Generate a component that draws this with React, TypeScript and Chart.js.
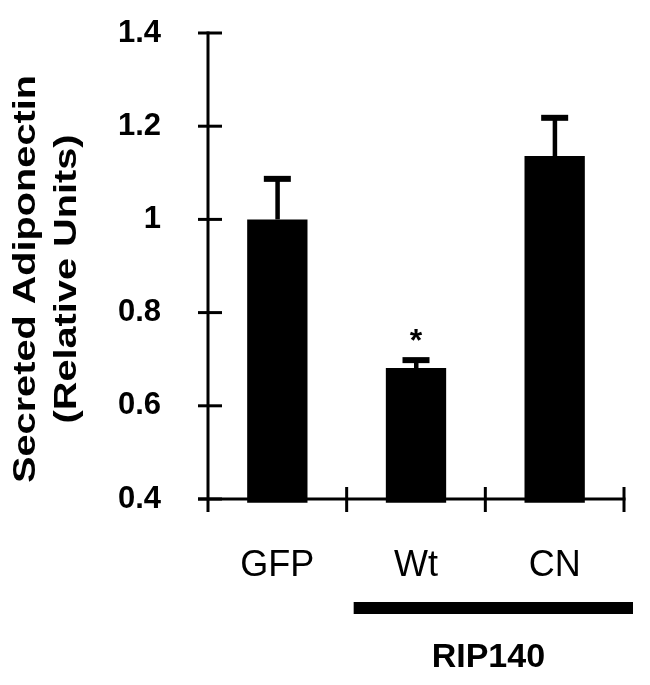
import React, { useEffect, useRef } from 'react';
import { Chart, registerables } from 'chart.js';

Chart.register(...registerables);

const categories = ['GFP', 'Wt', 'CN'];
const means = [1.0, 0.681, 1.136];
const errors = [0.087, 0.017, 0.082];
const significance = ['', '*', ''];
const yTitleLines = ['Secreted Adiponectin', '(Relative Units)'];
const groupLabel = 'RIP140';
const groupRange = [1, 2];
const yMin = 0.4;
const yMax = 1.4;
const yStep = 0.2;

const FONT = "'Liberation Sans', Arial, sans-serif";

const customPlugin = {
  id: 'customDecor',
  beforeDatasetsDraw(chart: any) {
    const { ctx, chartArea, scales } = chart;
    const x = scales.x;
    const y = scales.y;
    ctx.save();
    ctx.strokeStyle = '#000';
    ctx.lineWidth = 3;
    ctx.lineCap = 'butt';
    // y axis line
    ctx.beginPath();
    ctx.moveTo(chartArea.left, y.getPixelForValue(yMax) - 1.5);
    ctx.lineTo(chartArea.left, chartArea.bottom + 13);
    ctx.stroke();
    // y ticks
    y.ticks.forEach((t: any) => {
      const py = y.getPixelForValue(t.value);
      ctx.beginPath();
      ctx.moveTo(chartArea.left - 10, py);
      ctx.lineTo(chartArea.left + 14, py);
      ctx.stroke();
    });
    // x axis line
    ctx.beginPath();
    ctx.moveTo(chartArea.left - 10, chartArea.bottom);
    ctx.lineTo(chartArea.right + 1.5, chartArea.bottom);
    ctx.stroke();
    // x ticks at category boundaries
    for (let i = 1; i <= categories.length; i++) {
      const px = x.getPixelForValue(i - 0.5);
      ctx.beginPath();
      ctx.moveTo(px, chartArea.bottom - 12);
      ctx.lineTo(px, chartArea.bottom + 13);
      ctx.stroke();
    }
    ctx.restore();
  },
  afterDatasetsDraw(chart: any) {
    const { ctx, chartArea, scales } = chart;
    const x = scales.x;
    const y = scales.y;
    const meta = chart.getDatasetMeta(0);
    ctx.save();
    ctx.fillStyle = '#000';
    ctx.strokeStyle = '#000';
    meta.data.forEach((bar: any, i: number) => {
      const top = y.getPixelForValue(means[i]);
      const cap = y.getPixelForValue(means[i] + errors[i]);
      ctx.fillRect(bar.x - 2, cap, 4.5, top - cap);
      ctx.fillRect(bar.x - 13.5, cap - 3, 27, 6);
      if (significance[i]) {
        ctx.font = `bold 32px ${FONT}`;
        ctx.textAlign = 'center';
        ctx.textBaseline = 'alphabetic';
        ctx.fillText(significance[i], bar.x, cap - 9);
      }
    });
    // y title
    ctx.font = `bold 31px ${FONT}`;
    ctx.textAlign = 'center';
    ctx.textBaseline = 'middle';
    const cy = (chartArea.top + chartArea.bottom) / 2 + 13;
    const xs = [26, 67];
    yTitleLines.forEach((line, i) => {
      ctx.save();
      ctx.translate(xs[i], cy);
      ctx.rotate(-Math.PI / 2);
      ctx.scale(1.28, 1);
      ctx.fillText(line, 0, 0);
      ctx.restore();
    });
    // group bar
    const gx0 = x.getPixelForValue(groupRange[0] - 0.5) + 7;
    const gx1 = chartArea.right + 9;
    ctx.fillRect(gx0, chartArea.bottom + 103, gx1 - gx0, 12);
    ctx.font = `bold 34px ${FONT}`;
    ctx.textAlign = 'center';
    ctx.textBaseline = 'middle';
    const gcx = (x.getPixelForValue(groupRange[0]) + x.getPixelForValue(groupRange[1])) / 2;
    ctx.fillText(groupLabel, gcx + 3, chartArea.bottom + 159);
    ctx.restore();
  },
};

export default function App() {
  const ref = useRef<HTMLCanvasElement>(null);
  useEffect(() => {
    if (!ref.current) return;
    const chart = new Chart(ref.current, {
      type: 'bar',
      data: {
        labels: categories,
        datasets: [
          {
            data: means,
            backgroundColor: '#000',
            borderWidth: 0,
            barPercentage: 0.435,
            categoryPercentage: 1,
            base: 0.392,
            clip: false as any,
          },
        ],
      },
      options: {
        responsive: false,
        animation: false,
        devicePixelRatio: 1,
        layout: { autoPadding: false, padding: { top: 33, right: 26, left: 0, bottom: 0 } },
        plugins: {
          legend: { display: false },
          tooltip: { enabled: false },
          title: { display: false },
        },
        scales: {
          x: {
            grid: { display: false, drawTicks: false },
            border: { display: false },
            ticks: {
              color: '#000',
              font: { family: FONT, size: 36, weight: 'normal' },
              padding: 45,
              maxRotation: 0,
            },
            afterFit: (s: any) => {
              s.height = 186;
              s.paddingLeft = 0;
              s.paddingRight = 0;
              s.paddingTop = 0;
              s.paddingBottom = 0;
            },
          },
          y: {
            min: yMin,
            max: yMax,
            grid: { display: false, drawTicks: false },
            border: { display: false },
            ticks: {
              stepSize: yStep,
              color: '#000',
              font: { family: FONT, size: 31, weight: 'bold' },
              padding: 47,
              callback: (v: any) => String(Math.round(Number(v) * 10) / 10),
            },
            afterFit: (s: any) => {
              s.width = 208;
              s.paddingLeft = 0;
              s.paddingRight = 0;
              s.paddingTop = 0;
              s.paddingBottom = 0;
            },
          },
        },
      },
      plugins: [customPlugin],
    });
    return () => chart.destroy();
  }, []);
  return (
    <div style={{ position: 'absolute', left: 0, top: 0, width: 650, height: 685, background: '#fff' }}>
      <canvas ref={ref} width={650} height={685} />
    </div>
  );
}
